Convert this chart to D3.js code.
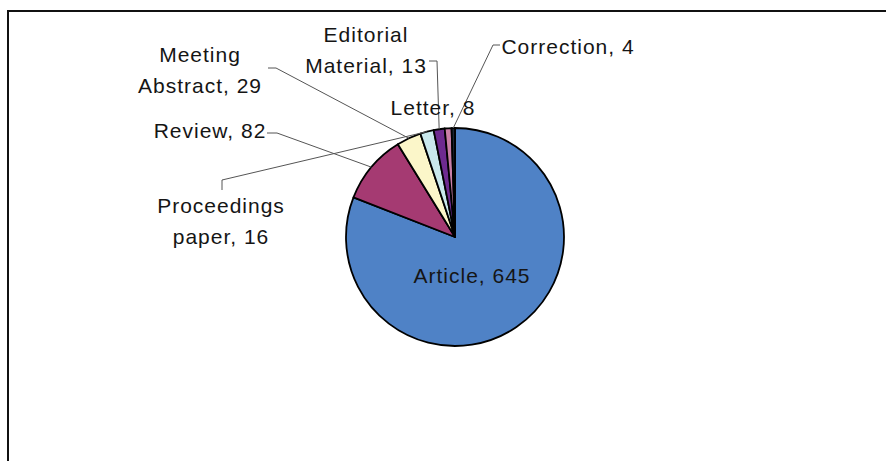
<!DOCTYPE html>
<html>
<head>
<meta charset="utf-8">
<script src="https://cdn.jsdelivr.net/npm/d3@7"></script>
<style>
  html, body { margin: 0; padding: 0; background: #fff; }
  svg { display: block; }
  text { font-family: "Liberation Sans", Arial, sans-serif; font-size: 21px; fill: #151515; letter-spacing: 1px; }
</style>
</head>
<body>
<svg id="chart" width="886" height="461"></svg>
<script>
// Document types and their record counts, in slice order (clockwise from 12 o'clock)
const categories = ["Article", "Review", "Meeting Abstract", "Proceedings paper", "Editorial Material", "Letter", "Correction"];
const values = [645, 82, 29, 16, 13, 8, 4];
// Label text split over lines
const labelLines = [["Article, 645"], ["Review, 82"], ["Meeting", "Abstract, 29"], ["Proceedings", "paper, 16"], ["Editorial", "Material, 13"], ["Letter, 8"], ["Correction, 4"]];
const colors = ["#4f82c6", "#a53a72", "#fbf6c9", "#c9e8ec", "#6e2a90", "#c97fa8", "#1b2634"];

const width = 886, height = 461;
const cx = 455, cy = 237, radius = 109;

const svg = d3.select("#chart");

// frame
svg.append("path")
  .attr("d", `M8,${height} L8,11 L${width},11`)
  .attr("fill", "none").attr("stroke", "#111").attr("stroke-width", 2);

const color = d3.scaleOrdinal().domain(categories).range(colors);
const pie = d3.pie().sort(null).value(d => d.value);
const data = categories.map((c, i) => ({ name: c, value: values[i], lines: labelLines[i] }));
const arcs = pie(data);

const arc = d3.arc().innerRadius(0).outerRadius(radius);
const edge = d3.arc().innerRadius(radius).outerRadius(radius);

const g = svg.append("g").attr("transform", `translate(${cx},${cy})`);

g.selectAll("path.slice")
  .data(arcs)
  .join("path")
  .attr("class", "slice")
  .attr("d", arc)
  .attr("fill", d => color(d.data.name))
  .attr("stroke", "#000")
  .attr("stroke-width", 1.8)
  .attr("stroke-linejoin", "round");

// label placement: text anchor point and leader start path (page coords)
const layout = {
  "Article":            { x: 472, y: 283, leader: null },
  "Review":             { x: 210, y: 138, leader: [[267, 133], [277, 133]] },
  "Meeting Abstract":   { x: 200, y: 62,  leader: [[268, 68], [276, 68]] },
  "Proceedings paper":  { x: 221, y: 213, leader: [[222, 190], [222, 180]] },
  "Editorial Material": { x: 366, y: 42,  leader: [[429, 61], [437, 61]] },
  "Letter":             { x: 433, y: 115, leader: null },
  "Correction":         { x: 568, y: 54,  leader: [[500, 45], [493, 45]] }
};
const lineGap = 31;

// leader lines to the midpoint of each slice's rim
arcs.forEach(d => {
  const L = layout[d.data.name];
  if (!L.leader) return;
  const [ex, ey] = edge.centroid(d);
  const pts = L.leader.concat([[cx + ex, cy + ey]]);
  svg.append("path")
    .attr("d", d3.line()(pts))
    .attr("fill", "none")
    .attr("stroke", "#555")
    .attr("stroke-width", 1);
});

// labels
arcs.forEach(d => {
  const L = layout[d.data.name];
  const t = svg.append("text")
    .attr("text-anchor", "middle")
    .attr("x", L.x).attr("y", L.y);
  d.data.lines.forEach((s, i) => {
    t.append("tspan").attr("x", L.x).attr("dy", i === 0 ? 0 : lineGap).text(s);
  });
});
</script>
</body>
</html>
